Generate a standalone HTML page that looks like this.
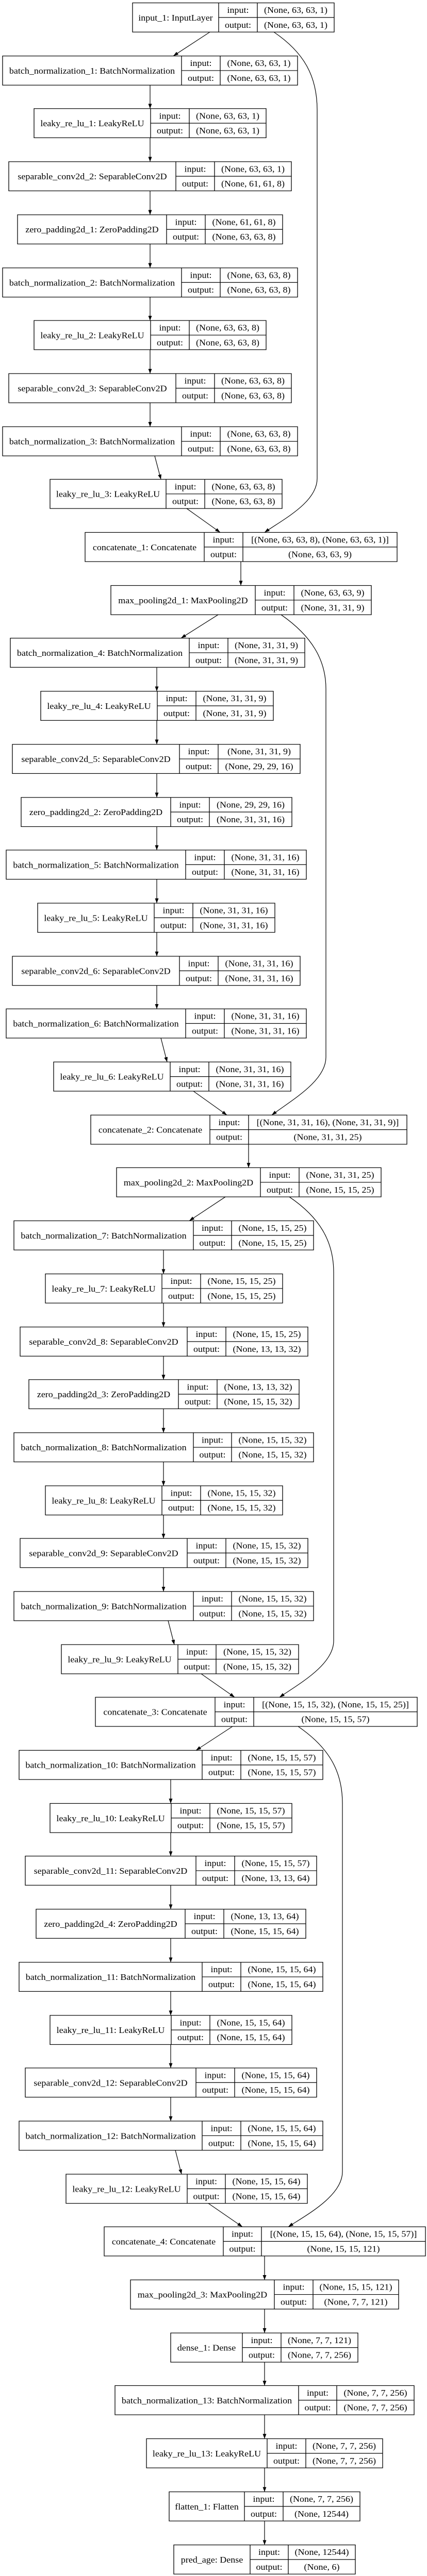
<!DOCTYPE html>
<html><head><meta charset="utf-8"><style>
html,body{margin:0;padding:0;background:#fff;width:100%;height:100%;overflow:hidden;}
svg{display:block;position:fixed;left:0;top:0;width:100vw;height:100vh;}
text{font-family:"Liberation Serif","DejaVu Serif",serif;font-size:18px;fill:#000;text-anchor:middle;}
.b rect{fill:#fff;stroke:#000;stroke-width:1.3;}
.b path{fill:none;stroke:#000;stroke-width:1.3;}
.e{fill:none;stroke:#000;stroke-width:1.2;marker-end:url(#ah);}
</style></head><body>
<svg viewBox="0 0 828 5385" preserveAspectRatio="none" xmlns="http://www.w3.org/2000/svg">
<defs><marker id="ah" markerUnits="userSpaceOnUse" markerWidth="11" markerHeight="8" refX="10" refY="3.5" orient="auto"><path d="M0,0 L10,3.5 L0,7 z" fill="#000"/></marker></defs>

<path class="e" d="M407,67 L336,117"/>
<path class="e" d="M291,178 V227"/><path class="e" d="M291,288 V338"/><path class="e" d="M291,399 V449"/><path class="e" d="M291,510 V560"/><path class="e" d="M291,621 V670"/><path class="e" d="M291,731 V781"/><path class="e" d="M291,842 V892"/>
<path class="e" d="M300,953 L312,1002"/>
<path class="e" d="M362,1063 L427,1113"/>
<path class="e" d="M531,67 C590,110 615,160 615,230 V1000 C615,1050 550,1085 513,1113"/>
<path class="e" d="M467,1174 V1224"/>
<path class="e" d="M423,1285 L351,1334"/>
<path class="e" d="M545,1285 C605,1330 632,1380 632,1440 V2210 C632,2260 565,2300 527,2331"/>
<path class="e" d="M304,1395 V1445"/><path class="e" d="M304,1506 V1556"/><path class="e" d="M304,1617 V1667"/><path class="e" d="M304,1728 V1777"/><path class="e" d="M304,1838 V1888"/><path class="e" d="M304,1949 V1999"/><path class="e" d="M304,2060 V2109"/>
<path class="e" d="M312,2170 L324,2220"/>
<path class="e" d="M375,2281 L440,2331"/>
<path class="e" d="M482,2392 V2441"/>
<path class="e" d="M437,2502 L367,2552"/>
<path class="e" d="M561,2502 C620,2545 647,2595 647,2660 V3430 C647,3480 580,3520 542,3548"/>
<path class="e" d="M317,2613 V2663"/><path class="e" d="M317,2724 V2774"/><path class="e" d="M317,2835 V2884"/><path class="e" d="M317,2945 V2995"/><path class="e" d="M317,3056 V3106"/><path class="e" d="M317,3167 V3216"/><path class="e" d="M317,3277 V3327"/>
<path class="e" d="M326,3388 L338,3438"/>
<path class="e" d="M390,3499 L455,3548"/>
<path class="e" d="M451,3609 L380,3659"/>
<path class="e" d="M578,3609 C640,3655 664,3705 664,3770 V4540 C664,4590 595,4630 559,4655"/>
<path class="e" d="M331,3720 V3770"/><path class="e" d="M331,3831 V3880"/><path class="e" d="M331,3941 V3991"/><path class="e" d="M331,4052 V4102"/><path class="e" d="M331,4163 V4213"/><path class="e" d="M331,4274 V4323"/><path class="e" d="M331,4384 V4434"/>
<path class="e" d="M340,4495 L352,4545"/>
<path class="e" d="M404,4606 L470,4655"/>
<path class="e" d="M513,4716 V4766"/><path class="e" d="M513,4827 V4877"/><path class="e" d="M513,4938 V4987"/><path class="e" d="M513,5048 V5098"/><path class="e" d="M513,5159 V5209"/><path class="e" d="M513,5270 V5320"/>

<g class="b" transform="translate(0,6)"><rect x="257" y="0" width="391" height="61"/><path d="M424 0V61M499 0V61M424 30.5H648"/><text x="340.5" y="37">input_1: InputLayer</text><text x="461.5" y="21">input:</text><text x="461.5" y="52">output:</text><text x="573.5" y="21">(None, 63, 63, 1)</text><text x="573.5" y="52">(None, 63, 63, 1)</text></g>
<g class="b" transform="translate(0,117)"><rect x="5" y="0" width="572" height="61"/><path d="M352 0V61M427 0V61M352 30.5H577"/><text x="178.5" y="37">batch_normalization_1: BatchNormalization</text><text x="389.5" y="21">input:</text><text x="389.5" y="52">output:</text><text x="502" y="21">(None, 63, 63, 1)</text><text x="502" y="52">(None, 63, 63, 1)</text></g>
<g class="b" transform="translate(0,227)"><rect x="66" y="0" width="450" height="61"/><path d="M292 0V61M367 0V61M292 30.5H516"/><text x="179" y="37">leaky_re_lu_1: LeakyReLU</text><text x="329.5" y="21">input:</text><text x="329.5" y="52">output:</text><text x="441.5" y="21">(None, 63, 63, 1)</text><text x="441.5" y="52">(None, 63, 63, 1)</text></g>
<g class="b" transform="translate(0,338)"><rect x="17" y="0" width="548" height="61"/><path d="M341 0V61M416 0V61M341 30.5H565"/><text x="179" y="37">separable_conv2d_2: SeparableConv2D</text><text x="378.5" y="21">input:</text><text x="378.5" y="52">output:</text><text x="490.5" y="21">(None, 63, 63, 1)</text><text x="490.5" y="52">(None, 61, 61, 8)</text></g>
<g class="b" transform="translate(0,449)"><rect x="34" y="0" width="514" height="61"/><path d="M323 0V61M398 0V61M323 30.5H548"/><text x="178.5" y="37">zero_padding2d_1: ZeroPadding2D</text><text x="360.5" y="21">input:</text><text x="360.5" y="52">output:</text><text x="473" y="21">(None, 61, 61, 8)</text><text x="473" y="52">(None, 63, 63, 8)</text></g>
<g class="b" transform="translate(0,560)"><rect x="5" y="0" width="572" height="61"/><path d="M352 0V61M427 0V61M352 30.5H577"/><text x="178.5" y="37">batch_normalization_2: BatchNormalization</text><text x="389.5" y="21">input:</text><text x="389.5" y="52">output:</text><text x="502" y="21">(None, 63, 63, 8)</text><text x="502" y="52">(None, 63, 63, 8)</text></g>
<g class="b" transform="translate(0,670)"><rect x="66" y="0" width="450" height="61"/><path d="M292 0V61M367 0V61M292 30.5H516"/><text x="179" y="37">leaky_re_lu_2: LeakyReLU</text><text x="329.5" y="21">input:</text><text x="329.5" y="52">output:</text><text x="441.5" y="21">(None, 63, 63, 8)</text><text x="441.5" y="52">(None, 63, 63, 8)</text></g>
<g class="b" transform="translate(0,781)"><rect x="17" y="0" width="548" height="61"/><path d="M341 0V61M416 0V61M341 30.5H565"/><text x="179" y="37">separable_conv2d_3: SeparableConv2D</text><text x="378.5" y="21">input:</text><text x="378.5" y="52">output:</text><text x="490.5" y="21">(None, 63, 63, 8)</text><text x="490.5" y="52">(None, 63, 63, 8)</text></g>
<g class="b" transform="translate(0,892)"><rect x="5" y="0" width="572" height="61"/><path d="M352 0V61M427 0V61M352 30.5H577"/><text x="178.5" y="37">batch_normalization_3: BatchNormalization</text><text x="389.5" y="21">input:</text><text x="389.5" y="52">output:</text><text x="502" y="21">(None, 63, 63, 8)</text><text x="502" y="52">(None, 63, 63, 8)</text></g>
<g class="b" transform="translate(0,1002)"><rect x="97" y="0" width="450" height="61"/><path d="M322 0V61M397 0V61M322 30.5H547"/><text x="209.5" y="37">leaky_re_lu_3: LeakyReLU</text><text x="359.5" y="21">input:</text><text x="359.5" y="52">output:</text><text x="472" y="21">(None, 63, 63, 8)</text><text x="472" y="52">(None, 63, 63, 8)</text></g>
<g class="b" transform="translate(0,1113)"><rect x="165" y="0" width="605" height="61"/><path d="M396 0V61M471 0V61M396 30.5H770"/><text x="280.5" y="37">concatenate_1: Concatenate</text><text x="433.5" y="21">input:</text><text x="433.5" y="52">output:</text><text x="620.5" y="21">[(None, 63, 63, 8), (None, 63, 63, 1)]</text><text x="620.5" y="52">(None, 63, 63, 9)</text></g>
<g class="b" transform="translate(0,1224)"><rect x="215" y="0" width="505" height="61"/><path d="M495 0V61M570 0V61M495 30.5H720"/><text x="355" y="37">max_pooling2d_1: MaxPooling2D</text><text x="532.5" y="21">input:</text><text x="532.5" y="52">output:</text><text x="645" y="21">(None, 63, 63, 9)</text><text x="645" y="52">(None, 31, 31, 9)</text></g>
<g class="b" transform="translate(0,1334)"><rect x="20" y="0" width="571" height="61"/><path d="M367 0V61M442 0V61M367 30.5H591"/><text x="193.5" y="37">batch_normalization_4: BatchNormalization</text><text x="404.5" y="21">input:</text><text x="404.5" y="52">output:</text><text x="516.5" y="21">(None, 31, 31, 9)</text><text x="516.5" y="52">(None, 31, 31, 9)</text></g>
<g class="b" transform="translate(0,1445)"><rect x="79" y="0" width="451" height="61"/><path d="M305 0V61M380 0V61M305 30.5H530"/><text x="192" y="37">leaky_re_lu_4: LeakyReLU</text><text x="342.5" y="21">input:</text><text x="342.5" y="52">output:</text><text x="455" y="21">(None, 31, 31, 9)</text><text x="455" y="52">(None, 31, 31, 9)</text></g>
<g class="b" transform="translate(0,1556)"><rect x="24" y="0" width="558" height="61"/><path d="M348 0V61M423 0V61M348 30.5H582"/><text x="186" y="37">separable_conv2d_5: SeparableConv2D</text><text x="385.5" y="21">input:</text><text x="385.5" y="52">output:</text><text x="502.5" y="21">(None, 31, 31, 9)</text><text x="502.5" y="52">(None, 29, 29, 16)</text></g>
<g class="b" transform="translate(0,1667)"><rect x="41" y="0" width="525" height="61"/><path d="M331 0V61M406 0V61M331 30.5H566"/><text x="186" y="37">zero_padding2d_2: ZeroPadding2D</text><text x="368.5" y="21">input:</text><text x="368.5" y="52">output:</text><text x="486" y="21">(None, 29, 29, 16)</text><text x="486" y="52">(None, 31, 31, 16)</text></g>
<g class="b" transform="translate(0,1777)"><rect x="12" y="0" width="582" height="61"/><path d="M360 0V61M435 0V61M360 30.5H594"/><text x="186" y="37">batch_normalization_5: BatchNormalization</text><text x="397.5" y="21">input:</text><text x="397.5" y="52">output:</text><text x="514.5" y="21">(None, 31, 31, 16)</text><text x="514.5" y="52">(None, 31, 31, 16)</text></g>
<g class="b" transform="translate(0,1888)"><rect x="73" y="0" width="460" height="61"/><path d="M299 0V61M374 0V61M299 30.5H533"/><text x="186" y="37">leaky_re_lu_5: LeakyReLU</text><text x="336.5" y="21">input:</text><text x="336.5" y="52">output:</text><text x="453.5" y="21">(None, 31, 31, 16)</text><text x="453.5" y="52">(None, 31, 31, 16)</text></g>
<g class="b" transform="translate(0,1999)"><rect x="24" y="0" width="558" height="61"/><path d="M348 0V61M423 0V61M348 30.5H582"/><text x="186" y="37">separable_conv2d_6: SeparableConv2D</text><text x="385.5" y="21">input:</text><text x="385.5" y="52">output:</text><text x="502.5" y="21">(None, 31, 31, 16)</text><text x="502.5" y="52">(None, 31, 31, 16)</text></g>
<g class="b" transform="translate(0,2109)"><rect x="12" y="0" width="582" height="61"/><path d="M360 0V61M435 0V61M360 30.5H594"/><text x="186" y="37">batch_normalization_6: BatchNormalization</text><text x="397.5" y="21">input:</text><text x="397.5" y="52">output:</text><text x="514.5" y="21">(None, 31, 31, 16)</text><text x="514.5" y="52">(None, 31, 31, 16)</text></g>
<g class="b" transform="translate(0,2220)"><rect x="104" y="0" width="460" height="61"/><path d="M330 0V61M405 0V61M330 30.5H564"/><text x="217" y="37">leaky_re_lu_6: LeakyReLU</text><text x="367.5" y="21">input:</text><text x="367.5" y="52">output:</text><text x="484.5" y="21">(None, 31, 31, 16)</text><text x="484.5" y="52">(None, 31, 31, 16)</text></g>
<g class="b" transform="translate(0,2331)"><rect x="176" y="0" width="613" height="61"/><path d="M407 0V61M482 0V61M407 30.5H789"/><text x="291.5" y="37">concatenate_2: Concatenate</text><text x="444.5" y="21">input:</text><text x="444.5" y="52">output:</text><text x="635.5" y="21">[(None, 31, 31, 16), (None, 31, 31, 9)]</text><text x="635.5" y="52">(None, 31, 31, 25)</text></g>
<g class="b" transform="translate(0,2441)"><rect x="226" y="0" width="513" height="61"/><path d="M505 0V61M580 0V61M505 30.5H739"/><text x="365.5" y="37">max_pooling2d_2: MaxPooling2D</text><text x="542.5" y="21">input:</text><text x="542.5" y="52">output:</text><text x="659.5" y="21">(None, 31, 31, 25)</text><text x="659.5" y="52">(None, 15, 15, 25)</text></g>
<g class="b" transform="translate(0,2552)"><rect x="27" y="0" width="581" height="61"/><path d="M375 0V61M449 0V61M375 30.5H608"/><text x="201" y="37">batch_normalization_7: BatchNormalization</text><text x="412" y="21">input:</text><text x="412" y="52">output:</text><text x="528.5" y="21">(None, 15, 15, 25)</text><text x="528.5" y="52">(None, 15, 15, 25)</text></g>
<g class="b" transform="translate(0,2663)"><rect x="88" y="0" width="460" height="61"/><path d="M314 0V61M389 0V61M314 30.5H548"/><text x="201" y="37">leaky_re_lu_7: LeakyReLU</text><text x="351.5" y="21">input:</text><text x="351.5" y="52">output:</text><text x="468.5" y="21">(None, 15, 15, 25)</text><text x="468.5" y="52">(None, 15, 15, 25)</text></g>
<g class="b" transform="translate(0,2774)"><rect x="39" y="0" width="558" height="61"/><path d="M363 0V61M438 0V61M363 30.5H597"/><text x="201" y="37">separable_conv2d_8: SeparableConv2D</text><text x="400.5" y="21">input:</text><text x="400.5" y="52">output:</text><text x="517.5" y="21">(None, 15, 15, 25)</text><text x="517.5" y="52">(None, 13, 13, 32)</text></g>
<g class="b" transform="translate(0,2884)"><rect x="56" y="0" width="524" height="61"/><path d="M346 0V61M421 0V61M346 30.5H580"/><text x="201" y="37">zero_padding2d_3: ZeroPadding2D</text><text x="383.5" y="21">input:</text><text x="383.5" y="52">output:</text><text x="500.5" y="21">(None, 13, 13, 32)</text><text x="500.5" y="52">(None, 15, 15, 32)</text></g>
<g class="b" transform="translate(0,2995)"><rect x="27" y="0" width="581" height="61"/><path d="M375 0V61M449 0V61M375 30.5H608"/><text x="201" y="37">batch_normalization_8: BatchNormalization</text><text x="412" y="21">input:</text><text x="412" y="52">output:</text><text x="528.5" y="21">(None, 15, 15, 32)</text><text x="528.5" y="52">(None, 15, 15, 32)</text></g>
<g class="b" transform="translate(0,3106)"><rect x="88" y="0" width="460" height="61"/><path d="M314 0V61M389 0V61M314 30.5H548"/><text x="201" y="37">leaky_re_lu_8: LeakyReLU</text><text x="351.5" y="21">input:</text><text x="351.5" y="52">output:</text><text x="468.5" y="21">(None, 15, 15, 32)</text><text x="468.5" y="52">(None, 15, 15, 32)</text></g>
<g class="b" transform="translate(0,3216)"><rect x="39" y="0" width="558" height="61"/><path d="M363 0V61M438 0V61M363 30.5H597"/><text x="201" y="37">separable_conv2d_9: SeparableConv2D</text><text x="400.5" y="21">input:</text><text x="400.5" y="52">output:</text><text x="517.5" y="21">(None, 15, 15, 32)</text><text x="517.5" y="52">(None, 15, 15, 32)</text></g>
<g class="b" transform="translate(0,3327)"><rect x="27" y="0" width="581" height="61"/><path d="M375 0V61M449 0V61M375 30.5H608"/><text x="201" y="37">batch_normalization_9: BatchNormalization</text><text x="412" y="21">input:</text><text x="412" y="52">output:</text><text x="528.5" y="21">(None, 15, 15, 32)</text><text x="528.5" y="52">(None, 15, 15, 32)</text></g>
<g class="b" transform="translate(0,3438)"><rect x="119" y="0" width="460" height="61"/><path d="M345 0V61M419 0V61M345 30.5H579"/><text x="232" y="37">leaky_re_lu_9: LeakyReLU</text><text x="382" y="21">input:</text><text x="382" y="52">output:</text><text x="499" y="21">(None, 15, 15, 32)</text><text x="499" y="52">(None, 15, 15, 32)</text></g>
<g class="b" transform="translate(0,3548)"><rect x="185" y="0" width="624" height="61"/><path d="M417 0V61M492 0V61M417 30.5H809"/><text x="301" y="37">concatenate_3: Concatenate</text><text x="454.5" y="21">input:</text><text x="454.5" y="52">output:</text><text x="650.5" y="21">[(None, 15, 15, 32), (None, 15, 15, 25)]</text><text x="650.5" y="52">(None, 15, 15, 57)</text></g>
<g class="b" transform="translate(0,3659)"><rect x="37" y="0" width="589" height="61"/><path d="M392 0V61M467 0V61M392 30.5H626"/><text x="214.5" y="37">batch_normalization_10: BatchNormalization</text><text x="429.5" y="21">input:</text><text x="429.5" y="52">output:</text><text x="546.5" y="21">(None, 15, 15, 57)</text><text x="546.5" y="52">(None, 15, 15, 57)</text></g>
<g class="b" transform="translate(0,3770)"><rect x="97" y="0" width="469" height="61"/><path d="M332 0V61M407 0V61M332 30.5H566"/><text x="214.5" y="37">leaky_re_lu_10: LeakyReLU</text><text x="369.5" y="21">input:</text><text x="369.5" y="52">output:</text><text x="486.5" y="21">(None, 15, 15, 57)</text><text x="486.5" y="52">(None, 15, 15, 57)</text></g>
<g class="b" transform="translate(0,3880)"><rect x="49" y="0" width="565" height="61"/><path d="M380 0V61M455 0V61M380 30.5H614"/><text x="214.5" y="37">separable_conv2d_11: SeparableConv2D</text><text x="417.5" y="21">input:</text><text x="417.5" y="52">output:</text><text x="534.5" y="21">(None, 15, 15, 57)</text><text x="534.5" y="52">(None, 13, 13, 64)</text></g>
<g class="b" transform="translate(0,3991)"><rect x="70" y="0" width="523" height="61"/><path d="M359 0V61M434 0V61M359 30.5H593"/><text x="214.5" y="37">zero_padding2d_4: ZeroPadding2D</text><text x="396.5" y="21">input:</text><text x="396.5" y="52">output:</text><text x="513.5" y="21">(None, 13, 13, 64)</text><text x="513.5" y="52">(None, 15, 15, 64)</text></g>
<g class="b" transform="translate(0,4102)"><rect x="37" y="0" width="589" height="61"/><path d="M392 0V61M467 0V61M392 30.5H626"/><text x="214.5" y="37">batch_normalization_11: BatchNormalization</text><text x="429.5" y="21">input:</text><text x="429.5" y="52">output:</text><text x="546.5" y="21">(None, 15, 15, 64)</text><text x="546.5" y="52">(None, 15, 15, 64)</text></g>
<g class="b" transform="translate(0,4213)"><rect x="97" y="0" width="469" height="61"/><path d="M332 0V61M407 0V61M332 30.5H566"/><text x="214.5" y="37">leaky_re_lu_11: LeakyReLU</text><text x="369.5" y="21">input:</text><text x="369.5" y="52">output:</text><text x="486.5" y="21">(None, 15, 15, 64)</text><text x="486.5" y="52">(None, 15, 15, 64)</text></g>
<g class="b" transform="translate(0,4323)"><rect x="49" y="0" width="565" height="61"/><path d="M380 0V61M455 0V61M380 30.5H614"/><text x="214.5" y="37">separable_conv2d_12: SeparableConv2D</text><text x="417.5" y="21">input:</text><text x="417.5" y="52">output:</text><text x="534.5" y="21">(None, 15, 15, 64)</text><text x="534.5" y="52">(None, 15, 15, 64)</text></g>
<g class="b" transform="translate(0,4434)"><rect x="37" y="0" width="589" height="61"/><path d="M392 0V61M467 0V61M392 30.5H626"/><text x="214.5" y="37">batch_normalization_12: BatchNormalization</text><text x="429.5" y="21">input:</text><text x="429.5" y="52">output:</text><text x="546.5" y="21">(None, 15, 15, 64)</text><text x="546.5" y="52">(None, 15, 15, 64)</text></g>
<g class="b" transform="translate(0,4545)"><rect x="128" y="0" width="468" height="61"/><path d="M363 0V61M437 0V61M363 30.5H596"/><text x="245.5" y="37">leaky_re_lu_12: LeakyReLU</text><text x="400" y="21">input:</text><text x="400" y="52">output:</text><text x="516.5" y="21">(None, 15, 15, 64)</text><text x="516.5" y="52">(None, 15, 15, 64)</text></g>
<g class="b" transform="translate(0,4655)"><rect x="202" y="0" width="623" height="61"/><path d="M433 0V61M507 0V61M433 30.5H825"/><text x="317.5" y="37">concatenate_4: Concatenate</text><text x="470" y="21">input:</text><text x="470" y="52">output:</text><text x="666" y="21">[(None, 15, 15, 64), (None, 15, 15, 57)]</text><text x="666" y="52">(None, 15, 15, 121)</text></g>
<g class="b" transform="translate(0,4766)"><rect x="253" y="0" width="520" height="61"/><path d="M532 0V61M607 0V61M532 30.5H773"/><text x="392.5" y="37">max_pooling2d_3: MaxPooling2D</text><text x="569.5" y="21">input:</text><text x="569.5" y="52">output:</text><text x="690" y="21">(None, 15, 15, 121)</text><text x="690" y="52">(None, 7, 7, 121)</text></g>
<g class="b" transform="translate(0,4877)"><rect x="331" y="0" width="363" height="61"/><path d="M470 0V61M545 0V61M470 30.5H694"/><text x="400.5" y="37">dense_1: Dense</text><text x="507.5" y="21">input:</text><text x="507.5" y="52">output:</text><text x="619.5" y="21">(None, 7, 7, 121)</text><text x="619.5" y="52">(None, 7, 7, 256)</text></g>
<g class="b" transform="translate(0,4987)"><rect x="223" y="0" width="580" height="61"/><path d="M579 0V61M653 0V61M579 30.5H803"/><text x="401" y="37">batch_normalization_13: BatchNormalization</text><text x="616" y="21">input:</text><text x="616" y="52">output:</text><text x="728" y="21">(None, 7, 7, 256)</text><text x="728" y="52">(None, 7, 7, 256)</text></g>
<g class="b" transform="translate(0,5098)"><rect x="284" y="0" width="458" height="61"/><path d="M518 0V61M593 0V61M518 30.5H742"/><text x="401" y="37">leaky_re_lu_13: LeakyReLU</text><text x="555.5" y="21">input:</text><text x="555.5" y="52">output:</text><text x="667.5" y="21">(None, 7, 7, 256)</text><text x="667.5" y="52">(None, 7, 7, 256)</text></g>
<g class="b" transform="translate(0,5209)"><rect x="328" y="0" width="370" height="61"/><path d="M474 0V61M549 0V61M474 30.5H698"/><text x="401" y="37">flatten_1: Flatten</text><text x="511.5" y="21">input:</text><text x="511.5" y="52">output:</text><text x="623.5" y="21">(None, 7, 7, 256)</text><text x="623.5" y="52">(None, 12544)</text></g>
<g class="b" transform="translate(0,5320)"><rect x="337" y="0" width="352" height="61"/><path d="M485 0V61M559 0V61M485 30.5H689"/><text x="411" y="37">pred_age: Dense</text><text x="522" y="21">input:</text><text x="522" y="52">output:</text><text x="624" y="21">(None, 12544)</text><text x="624" y="52">(None, 6)</text></g>
</svg>
</body></html>
